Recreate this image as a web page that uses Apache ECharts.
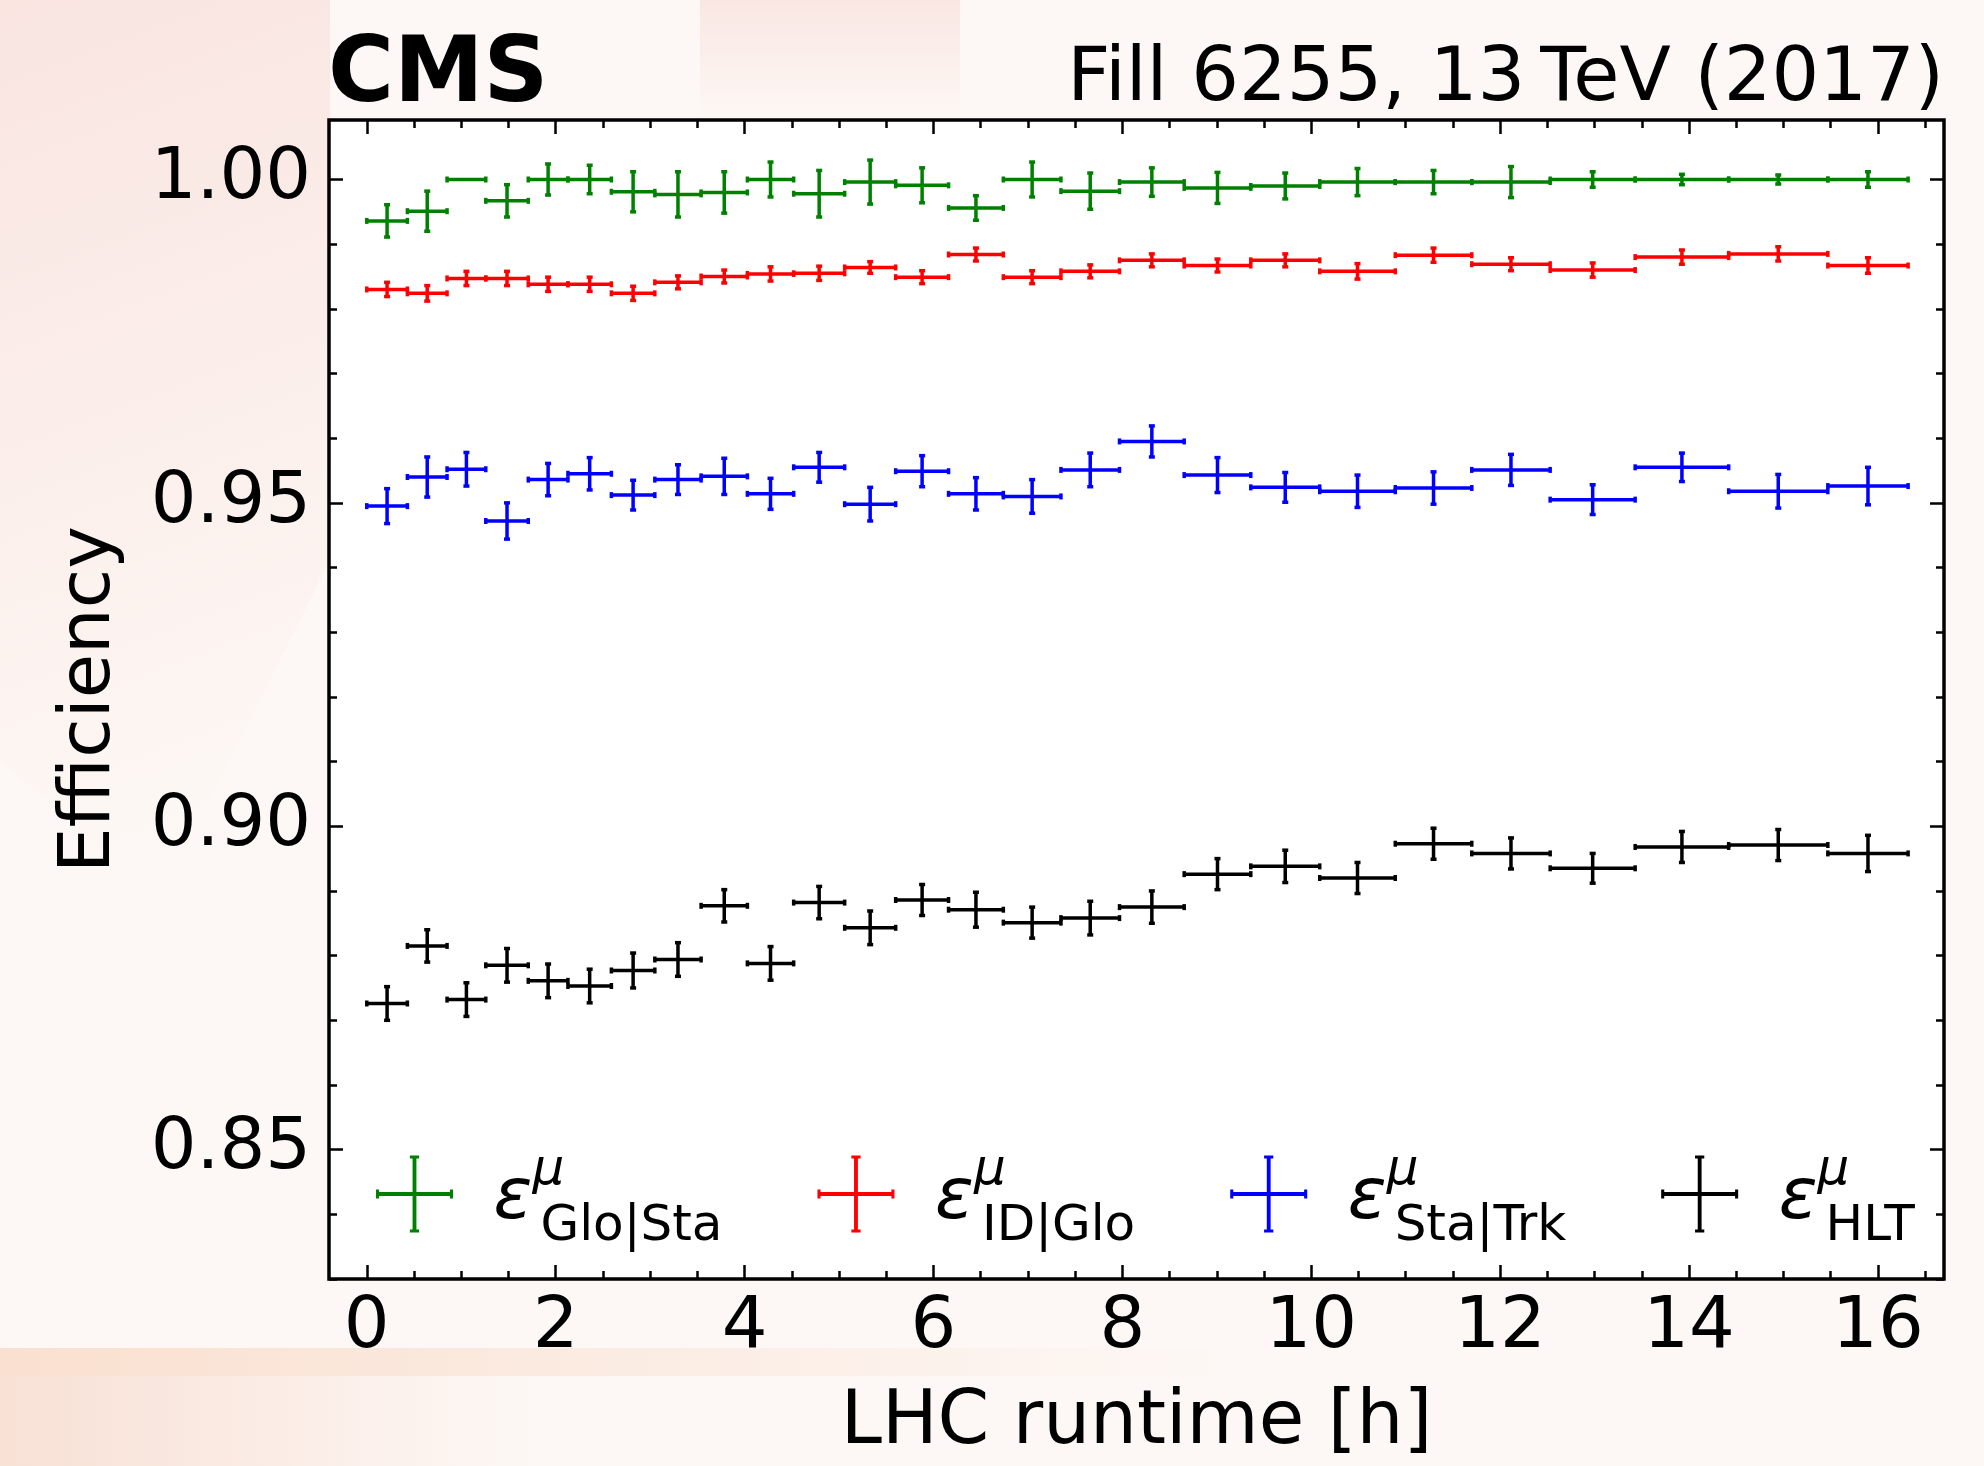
<!DOCTYPE html>
<html>
<head>
<meta charset="utf-8">
<script src="https://cdn.jsdelivr.net/npm/echarts@6/dist/echarts.min.js"></script>
<style>
  html, body { margin: 0; padding: 0; background: #fdf8f5; }
  #chart { width: 1984px; height: 1466px; }
</style>
</head>
<body>
<div id="chart"></div>
<script>
// Bin edges of LHC runtime [h] (26 bins)
var binEdges = [0.00, 0.43, 0.85, 1.26, 1.71, 2.13, 2.59, 3.05, 3.54, 4.03, 4.52, 5.06, 5.60,
    6.16, 6.74, 7.35, 7.97, 8.655, 9.36, 10.09, 10.89, 11.70, 12.53, 13.43, 14.42, 15.47, 16.32];

// efficiencies and their uncertainties
var gloStaEff = [0.9936, 0.9951, 1.0000, 0.9967, 1.0000, 1.0000, 0.9981, 0.9977, 0.9980, 1.0000, 0.9978, 0.9996, 0.9991,
    0.9956, 1.0000, 0.9982, 0.9996, 0.9987, 0.9990, 0.9996, 0.9996, 0.9996, 1.0000, 1.0000, 1.0000, 1.0000];
var gloStaErr = [0.0025, 0.0031, 0.0000, 0.0025, 0.0024, 0.0022, 0.0031, 0.0035, 0.0032, 0.0027, 0.0036, 0.0034, 0.0027,
    0.0019, 0.0027, 0.0028, 0.0022, 0.0024, 0.0020, 0.0021, 0.0018, 0.0024, 0.0012, 0.0008, 0.0007, 0.0012];

var idGloEff = [0.9830, 0.9824, 0.9847, 0.9847, 0.9838, 0.9838, 0.9824, 0.9841, 0.9850, 0.9854, 0.9855, 0.9864, 0.9849,
    0.9884, 0.9849, 0.9858, 0.9875, 0.9867, 0.9875, 0.9858, 0.9883, 0.9869, 0.9860, 0.9880, 0.9885, 0.9867];
var idGloErr = [0.0011, 0.0012, 0.0011, 0.0011, 0.0011, 0.0011, 0.0011, 0.0010, 0.0010, 0.0011, 0.0011, 0.0009, 0.0010,
    0.0010, 0.0010, 0.0010, 0.0010, 0.0010, 0.0010, 0.0012, 0.0011, 0.0010, 0.0011, 0.0011, 0.0011, 0.0012];

var staTrkEff = [0.9495, 0.9540, 0.9552, 0.9472, 0.9536, 0.9545, 0.9512, 0.9536, 0.9541, 0.9514, 0.9555, 0.9498, 0.9549,
    0.9514, 0.9510, 0.9551, 0.9595, 0.9543, 0.9524, 0.9518, 0.9523, 0.9551, 0.9505, 0.9555, 0.9518, 0.9526];
var staTrkErr = [0.0027, 0.0031, 0.0026, 0.0028, 0.0025, 0.0025, 0.0023, 0.0023, 0.0028, 0.0024, 0.0023, 0.0026, 0.0024,
    0.0025, 0.0026, 0.0026, 0.0024, 0.0027, 0.0023, 0.0025, 0.0025, 0.0024, 0.0023, 0.0022, 0.0026, 0.0029];

var hltEff = [0.8726, 0.8815, 0.8732, 0.8785, 0.8761, 0.8753, 0.8777, 0.8794, 0.8877, 0.8788, 0.8882, 0.8843, 0.8886,
    0.8871, 0.8851, 0.8858, 0.8875, 0.8926, 0.8938, 0.8920, 0.8973, 0.8958, 0.8935, 0.8968, 0.8971, 0.8958];
var hltErr = [0.0026, 0.0025, 0.0026, 0.0026, 0.0026, 0.0026, 0.0027, 0.0026, 0.0025, 0.0026, 0.0025, 0.0026, 0.0024,
    0.0027, 0.0024, 0.0026, 0.0025, 0.0024, 0.0025, 0.0024, 0.0024, 0.0024, 0.0023, 0.0024, 0.0024, 0.0028];

// ticks
var xMajorTicks = [0, 2, 4, 6, 8, 10, 12, 14, 16];
var yMajorTicks = [0.85, 0.90, 0.95, 1.00];

var X_MIN = -0.4, X_MAX = 16.7, Y_MIN = 0.83, Y_MAX = 1.0092;
var FONT = 'DejaVu Sans';

function steps(from, to, step, digits) {
    var out = [];
    for (var v = from; v <= to + step / 10; v += step) out.push(+v.toFixed(digits));
    return out;
}
var xMinorTicks = steps(0, 16.5, 0.5, 1);
var yMinorTicks = steps(0.83, 1.00, 0.01, 2);

function buildData(eff, err) {
    return eff.map(function(v, i) {
        var lo = binEdges[i], hi = binEdges[i + 1];
        return [(lo + hi) / 2, v, lo, hi, err[i]];
    });
}

function errorBarItem(params, api) {
    var x = api.value(0), y = api.value(1), xlo = api.value(2), xhi = api.value(3), e = api.value(4);
    var c = api.coord([x, y]);
    var l = api.coord([xlo, y]);
    var r = api.coord([xhi, y]);
    var style = { stroke: api.visual('color'), lineWidth: 3.5 };
    var cap = 3;
    var children = [
        { type: 'line', shape: { x1: l[0], y1: c[1], x2: r[0], y2: c[1] }, style: style },
        { type: 'line', shape: { x1: l[0], y1: c[1] - cap, x2: l[0], y2: c[1] + cap }, style: style },
        { type: 'line', shape: { x1: r[0], y1: c[1] - cap, x2: r[0], y2: c[1] + cap }, style: style }
    ];
    if (e > 0) {
        var t = api.coord([x, y + e]);
        var b = api.coord([x, y - e]);
        children.push(
            { type: 'line', shape: { x1: c[0], y1: t[1], x2: c[0], y2: b[1] }, style: style },
            { type: 'line', shape: { x1: c[0] - cap, y1: t[1], x2: c[0] + cap, y2: t[1] }, style: style },
            { type: 'line', shape: { x1: c[0] - cap, y1: b[1], x2: c[0] + cap, y2: b[1] }, style: style }
        );
    }
    return { type: 'group', children: children };
}

function makeSeries(name, color, eff, err) {
    return {
        name: name,
        type: 'custom',
        renderItem: errorBarItem,
        xAxisIndex: 0,
        yAxisIndex: 0,
        z: 5,
        itemStyle: { color: color },
        color: color,
        data: buildData(eff, err)
    };
}

var tickLine = { color: '#000', width: 2.5 };
var labelStyle = { color: '#000', fontSize: 72, fontFamily: FONT };

function xAxisDef(position, ticks, len, withLabels) {
    var ax = {
        type: 'value', position: position, min: X_MIN, max: X_MAX, z: 4,
        axisLine: { show: false, onZero: false },
        axisTick: { show: true, inside: true, length: len, lineStyle: tickLine, customValues: ticks },
        axisLabel: { show: false },
        splitLine: { show: false }
    };
    if (withLabels) {
        ax.axisLabel = Object.assign({ show: true, customValues: ticks, margin: 13,
            formatter: function(v) { return String(v); } }, labelStyle);
        ax.name = 'LHC runtime [h]';
        ax.nameLocation = 'middle';
        ax.nameGap = 108;
        ax.nameTextStyle = Object.assign({}, labelStyle, { fontSize: 74 });
    }
    return ax;
}

function yAxisDef(position, ticks, len, withLabels) {
    var ax = {
        type: 'value', position: position, min: Y_MIN, max: Y_MAX, z: 4,
        axisLine: { show: false, onZero: false },
        axisTick: { show: true, inside: true, length: len, lineStyle: tickLine, customValues: ticks },
        axisLabel: { show: false },
        splitLine: { show: false }
    };
    if (withLabels) {
        ax.axisLabel = Object.assign({ show: true, customValues: ticks, margin: 18, padding: [12, 0, 0, 0],
            formatter: function(v) { return v.toFixed(2); } }, labelStyle);
        ax.name = 'Efficiency';
        ax.nameLocation = 'middle';
        ax.nameGap = 203;
        ax.nameTextStyle = labelStyle;
    }
    return ax;
}

// cross with caps, used as legend handle
var errIcon = 'path://M47.5 0h5v100h-5z M0 47.5h100v5h-100z M44 0h12v4h-12z M44 96h12v4h-12z M0 44h4v12h-4z M96 44h4v12h-4z';

function fade(x, y, x2, y2, rgb, a) {
    return { type: 'linear', global: true, x: x, y: y, x2: x2, y2: y2, colorStops: [
        { offset: 0, color: 'rgba(' + rgb + ',' + a + ')' },
        { offset: 1, color: 'rgba(' + rgb + ',0)' }
    ] };
}

var chart = echarts.init(document.getElementById('chart'));

var option = {
    animation: false,
    backgroundColor: '#fdf8f5',
    grid: {
        left: 329, top: 120, width: 1615, height: 1163,
        show: true, backgroundColor: '#ffffff', borderColor: '#000', borderWidth: 3.5
    },
    xAxis: [
        xAxisDef('bottom', xMajorTicks, 14, true),
        xAxisDef('bottom', xMinorTicks, 8, false),
        xAxisDef('top', xMajorTicks, 14, false),
        xAxisDef('top', xMinorTicks, 8, false)
    ],
    yAxis: [
        yAxisDef('left', yMajorTicks, 14, true),
        yAxisDef('left', yMinorTicks, 8, false),
        yAxisDef('right', yMajorTicks, 14, false),
        yAxisDef('right', yMinorTicks, 8, false)
    ],
    legend: {
        left: 376,
        top: 1146,
        padding: 0,
        orient: 'horizontal',
        itemWidth: 80,
        itemHeight: 77,
        itemGap: 95,
        icon: errIcon,
        selectedMode: false,
        data: ['Glo|Sta', 'ID|Glo', 'Sta|Trk', 'HLT'],
        formatter: function(name) {
            return '{e|\u03b5}{s|\u03bc}{b|' + name + '}';
        },
        textStyle: {
            color: '#000',
            fontFamily: FONT,
            padding: [10, 0, 0, 0],
            rich: {
                e: { fontSize: 72, fontStyle: 'italic', fontFamily: FONT, color: '#000',
                    lineHeight: 106, verticalAlign: 'middle', padding: [0, 0, 0, 34] },
                s: { fontSize: 50, fontStyle: 'italic', fontFamily: FONT, color: '#000',
                    lineHeight: 50, verticalAlign: 'top', width: 8 },
                b: { fontSize: 50, fontFamily: FONT, color: '#000',
                    lineHeight: 50, verticalAlign: 'bottom' }
            }
        }
    },
    graphic: [
        // faint watermark tones of the page background
        { type: 'polygon', z: -10, silent: true,
            shape: { points: [[0, 0], [330, 0], [330, 560], [160, 900], [0, 760]] },
            style: { fill: fade(0, 0, 300, 800, '232, 140, 130', 0.18) } },
        { type: 'rect', z: -10, silent: true, shape: { x: 700, y: 0, width: 260, height: 120 },
            style: { fill: fade(830, 0, 830, 120, '232, 140, 130', 0.16) } },
        { type: 'rect', z: -10, silent: true, shape: { x: 0, y: 1348, width: 1240, height: 28 },
            style: { fill: fade(0, 1348, 1240, 1348, '240, 160, 110', 0.28) } },
        { type: 'rect', z: -10, silent: true, shape: { x: 0, y: 1376, width: 540, height: 90 },
            style: { fill: fade(0, 1376, 540, 1376, '230, 140, 100', 0.22) } },
        {
            type: 'text', x: 328, y: 78,
            style: { text: 'CMS', fill: '#000', font: 'bold 90px "DejaVu Sans"', align: 'left', verticalAlign: 'middle' }
        },
        {
            type: 'text', x: 1944, y: 81,
            style: { text: 'Fill 6255, 13\u2009TeV (2017)', fill: '#000', font: '75px "DejaVu Sans"', align: 'right', verticalAlign: 'middle' }
        }
    ],
    series: [
        makeSeries('Glo|Sta', '#008000', gloStaEff, gloStaErr),
        makeSeries('ID|Glo', '#ff0000', idGloEff, idGloErr),
        makeSeries('Sta|Trk', '#0000ff', staTrkEff, staTrkErr),
        makeSeries('HLT', '#000000', hltEff, hltErr)
    ]
};

chart.setOption(option);
</script>
</body>
</html>
